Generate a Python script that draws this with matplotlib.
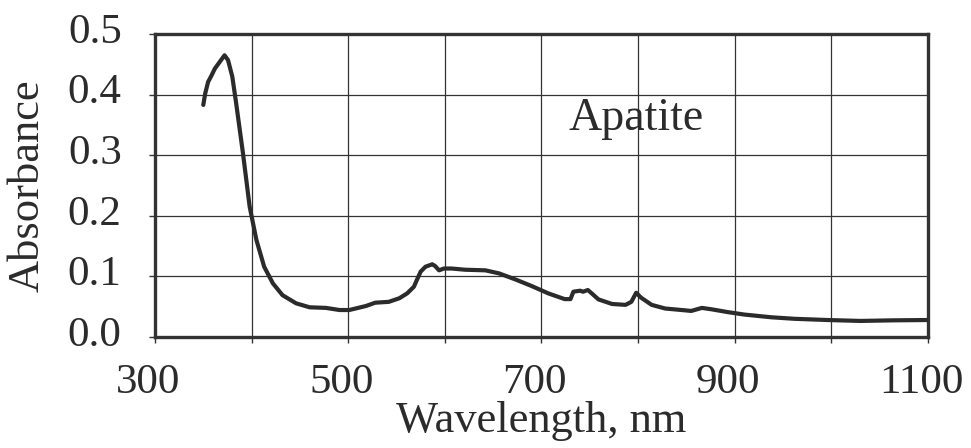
import matplotlib
matplotlib.use("Agg")
import matplotlib.pyplot as plt
from matplotlib.transforms import ScaledTranslation

wavelength = [350, 352, 355, 358, 362, 367, 372, 375.6, 380, 384, 391, 398, 405, 413, 422,
              432, 446, 460, 477, 491, 501, 518, 528, 542, 553, 561, 568, 571, 575, 580,
              587, 590, 594, 599, 607, 621, 642, 656, 673, 690, 707, 724, 730, 733, 740,
              743, 748, 752, 759, 773, 787, 793, 798, 803, 814, 828, 845, 855, 866, 876,
              893, 910, 938, 962, 996, 1030, 1065, 1100]
absorbance = [0.383, 0.402, 0.421, 0.43, 0.443, 0.454, 0.465, 0.457, 0.43, 0.386, 0.304,
              0.215, 0.160, 0.116, 0.0886, 0.069, 0.0556, 0.049, 0.048, 0.0445, 0.0445,
              0.051, 0.0566, 0.058, 0.064, 0.072, 0.083, 0.094, 0.108, 0.116, 0.120, 0.117,
              0.110, 0.113, 0.113, 0.111, 0.110, 0.105, 0.095, 0.084, 0.072, 0.0625, 0.0625,
              0.0747, 0.0764, 0.0747, 0.0775, 0.072, 0.062, 0.0545, 0.053, 0.058, 0.073,
              0.065, 0.053, 0.047, 0.0445, 0.043, 0.048, 0.0457, 0.041, 0.037, 0.0325,
              0.030, 0.028, 0.0265, 0.0275, 0.028]

x_ticks = [300, 400, 500, 600, 700, 800, 900, 1000, 1100]
x_tick_labels = ["300", "", "500", "", "700", "", "900", "", "1100"]
y_ticks = [0.0, 0.1, 0.2, 0.3, 0.4, 0.5]
y_tick_labels = ["0.0", "0.1", "0.2", "0.3", "0.4", "0.5"]
sample_label = "Apatite"
x_label = "Wavelength, nm"
y_label = "Absorbance"

plt.rcParams["font.family"] = ["Liberation Serif", "DejaVu Serif"]

fig = plt.figure(figsize=(9.71, 4.48), dpi=100)
ax = fig.add_axes([0.1596, 0.2478, 0.9557 - 0.1596, 0.924 - 0.2478])

ax.plot(wavelength, absorbance, color="#2b2b2b", lw=3.0, solid_joinstyle="round",
        solid_capstyle="round", zorder=3)

ax.set_xlim(300, 1100)
ax.set_ylim(0, 0.5)
ax.set_xticks(x_ticks)
ax.set_xticklabels(x_tick_labels)
ax.set_yticks(y_ticks)
ax.set_yticklabels(y_tick_labels)
ax.grid(True, color="#333333", lw=0.9, zorder=1)

for s in ax.spines.values():
    s.set_linewidth(2.4)
    s.set_color("#333333")

ax.tick_params(axis="both", direction="out", length=4, width=1, color="#333333",
               labelsize=31, labelcolor="#2b2b2b")
ax.tick_params(axis="x", pad=15)
ax.tick_params(axis="y", pad=20)

xoff = ScaledTranslation(-0.07, 0, fig.dpi_scale_trans)
for lab in ax.get_xticklabels():
    lab.set_transform(lab.get_transform() + xoff)
yoff = ScaledTranslation(0, 0.06, fig.dpi_scale_trans)
for lab in ax.get_yticklabels():
    lab.set_transform(lab.get_transform() + yoff)

ax.set_xlabel(x_label, fontsize=32, color="#2b2b2b")
ax.xaxis.label.set_va("baseline")
ax.xaxis.set_label_coords(0.5, -0.3135)
ax.set_ylabel(y_label, fontsize=32, color="#2b2b2b")
ax.yaxis.label.set_va("center")
ax.yaxis.set_label_coords(-0.1643, 0.5)

ax.text(798, 0.3416, sample_label, fontsize=33, color="#2b2b2b", ha="center",
        va="baseline", zorder=4)

fig.savefig("out.png", dpi=100)
